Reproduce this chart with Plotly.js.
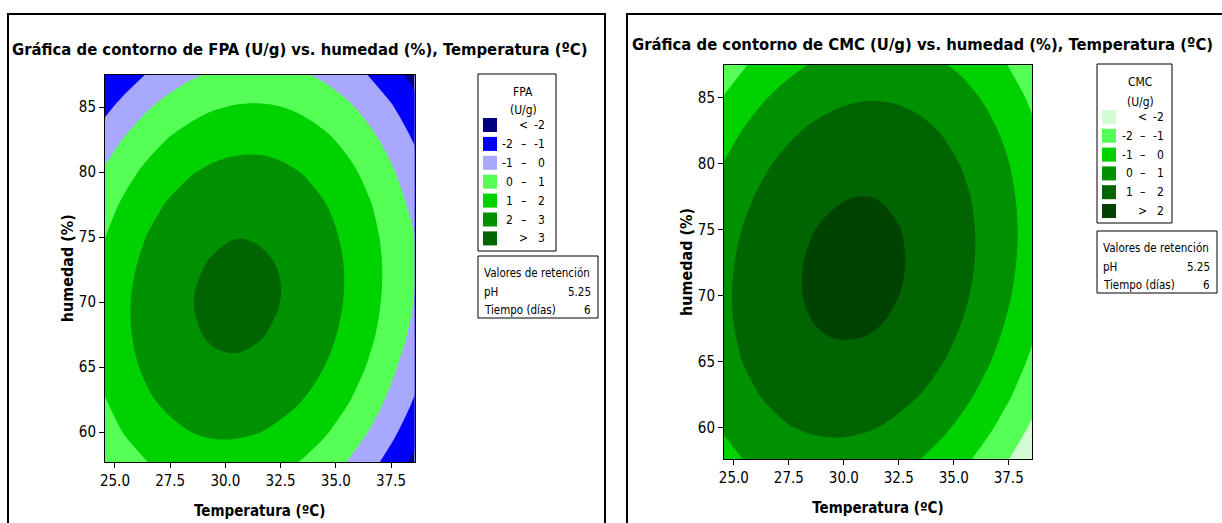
<!DOCTYPE html>
<html><head><meta charset="utf-8">
<script src="https://cdn.plot.ly/plotly-3.0.1.min.js"></script>
<style>html,body{margin:0;padding:0;background:#fff}#chart{width:1222px;height:523px}</style>
</head><body><div id="chart"></div>
<script>
// ---- data ----
const temperatura = [24.5, 25.5, 26.5, 27.5, 28.5, 29.5, 30.5, 31.5, 32.5, 33.5, 34.5, 35.5, 36.5, 37.5, 38.5, 39.5];
const humedad = [57.5, 60, 62.5, 65, 67.5, 70, 72.5, 75, 77.5, 80, 82.5, 85, 87.5];

const fpa = [
  [0.05, 0.56, 0.96, 1.26, 1.45, 1.55, 1.53, 1.42, 1.20, 0.88, 0.46, -0.07, -0.69, -1.43, -2.26, -3.20],
  [0.56, 1.08, 1.49, 1.80, 2.01, 2.12, 2.12, 2.02, 1.81, 1.51, 1.10, 0.58, -0.03, -0.75, -1.57, -2.50],
  [0.94, 1.47, 1.90, 2.22, 2.44, 2.56, 2.58, 2.49, 2.30, 2.002, 1.61, 1.11, 0.50, -0.20, -1.01, -1.93],
  [1.20, 1.74, 2.18, 2.52, 2.75, 2.88, 2.91, 2.83, 2.66, 2.37, 1.99, 1.50, 0.91, 0.22, -0.58, -1.48],
  [1.33, 1.88, 2.34, 2.69, 2.93, 3.08, 3.12, 3.05, 2.89, 2.62, 2.25, 1.78, 1.20, 0.52, -0.20, -1.15],
  [1.33, 1.90, 2.37, 2.73, 2.99, 3.14, 3.20, 3.15, 2.996, 2.74, 2.38, 1.92, 1.36, 0.69, 0.01, -0.96],
  [1.21, 1.79, 2.27, 2.65, 2.92, 3.09, 3.16, 3.12, 2.98, 2.74, 2.39, 1.94, 1.39, 0.74, 0.10, -0.88],
  [0.97, 1.56, 2.05, 2.44, 2.73, 2.91, 2.99, 2.96, 2.84, 2.61, 2.27, 1.84, 1.30, 0.66, 0.06, -0.93],
  [0.60, 1.20, 1.71, 2.11, 2.41, 2.60, 2.69, 2.68, 2.57, 2.35, 2.03, 1.61, 1.08, 0.45, -0.20, -1.11],
  [0.10, 0.72, 1.24, 1.65, 1.96, 2.17, 2.27, 2.28, 2.18, 1.97, 1.66, 1.25, 0.74, 0.13, -0.59, -1.42],
  [-0.52, 0.11, 0.64, 1.07, 1.39, 1.61, 1.73, 1.75, 1.66, 1.47, 1.17, 0.77, 0.27, -0.33, -1.04, -1.84],
  [-1.27, -0.63, -0.08, 0.36, 0.70, 0.93, 1.06, 1.09, 1.01, 0.83, 0.55, 0.17, -0.32, -0.91, -1.60, -2.40],
  [-1.95, -1.49, -0.93, -0.48, -0.13, 0.12, 0.26, 0.30, 0.24, 0.08, -0.19, -0.56, -1.04, -1.61, -2.30, -3.08]
];

const cmc = [
  [-0.34, 0.02, 0.30, 0.50, 0.62, 0.66, 0.61, 0.48, 0.27, -0.02, -0.40, -0.85, -1.39, -2.01, -2.71, -3.50],
  [0.08, 0.46, 0.75, 0.97, 1.10, 1.15, 1.12, 1.01, 0.81, 0.53, 0.17, -0.27, -0.80, -1.40, -2.09, -2.86],
  [0.41, 0.80, 1.11, 1.34, 1.49, 1.55, 1.53, 1.43, 1.25, 0.99, 0.64, 0.22, -0.30, -0.89, -1.56, -2.32],
  [0.64, 1.05, 1.37, 1.62, 1.78, 1.85, 1.85, 1.77, 1.60, 1.35, 1.02, 0.61, 0.11, -0.47, -1.13, -1.87],
  [0.78, 1.20, 1.54, 1.79, 1.97, 2.06, 2.07, 2.002, 1.85, 1.61, 1.30, 0.90, 0.42, -0.15, -0.79, -1.52],
  [0.82, 1.25, 1.61, 1.88, 2.07, 2.17, 2.20, 2.14, 2.003, 1.78, 1.48, 1.10, 0.63, 0.08, -0.55, -1.26],
  [0.76, 1.21, 1.58, 1.86, 2.07, 2.19, 2.23, 2.19, 2.06, 1.86, 1.57, 1.20, 0.75, 0.21, -0.41, -1.10],
  [0.61, 1.07, 1.45, 1.75, 1.97, 2.11, 2.16, 2.13, 2.02, 1.83, 1.56, 1.20, 0.77, 0.25, -0.36, -1.04],
  [0.36, 0.84, 1.23, 1.55, 1.78, 1.93, 1.998, 1.99, 1.89, 1.71, 1.45, 1.11, 0.69, 0.18, -0.41, -1.08],
  [0.01, 0.51, 0.92, 1.25, 1.49, 1.66, 1.74, 1.74, 1.66, 1.50, 1.25, 0.92, 0.52, 0.02, -0.55, -1.20],
  [-0.43, 0.08, 0.50, 0.85, 1.11, 1.29, 1.39, 1.40, 1.33, 1.18, 0.95, 0.64, 0.25, -0.23, -0.79, -1.43],
  [-0.97, -0.44, -0.01, 0.35, 0.63, 0.82, 0.93, 0.96, 0.91, 0.78, 0.56, 0.26, -0.12, -0.58, -1.13, -1.75],
  [-1.60, -1.06, -0.61, -0.24, 0.05, 0.26, 0.39, 0.43, 0.39, 0.27, 0.07, -0.21, -0.58, -1.03, -1.56, -2.17]
];

const fpaLevels = [-2, -1, 0, 1, 2, 3];
const cmcLevels = [-2, -1, 0, 1, 2];
const retencion = [['pH', '5.25'], ['Tiempo (días)', '6']];
const xTicks = [25.0, 27.5, 30.0, 32.5, 35.0, 37.5];
const yTicks = [60, 65, 70, 75, 80, 85];

// ---- styles ----
const fpaColors = ['#000080', '#0000ff', '#a8a8ff', '#55ff55', '#00d200', '#009100', '#006400'];
const cmcColors = ['#d4fcd4', '#55ff55', '#00d200', '#009100', '#006400', '#004200'];
const FONT = '"Liberation Sans Narrow", "Arial Narrow", "DejaVu Sans Condensed", "Liberation Sans", sans-serif';
const W = 1222, H = 523;
const px = v => v / W;
const py = v => 1 - v / H;

function scale(colors) {
  return colors.map((c, i) => [i / (colors.length - 1), c]);
}

function bandLabels(levels) {
  const out = [['', '<', String(levels[0])]];
  for (let i = 0; i < levels.length - 1; i++) out.push([String(levels[i]), '\u2013', String(levels[i + 1])]);
  out.push(['', '>', String(levels[levels.length - 1])]);
  return out;
}

function contourTrace(z, levels, colors, xa, ya) {
  return {
    type: 'contour', x: temperatura, y: humedad, z: z, xaxis: xa, yaxis: ya,
    autocontour: false,
    contours: {start: levels[0], end: levels[levels.length - 1], size: 1, coloring: 'fill', showlines: false},
    line: {width: 0, smoothing: 1},
    colorscale: scale(colors), showscale: false, hoverinfo: 'skip'
  };
}

const shapes = [];
const annotations = [];

function text(t, x, y, anchor, size, bold) {
  annotations.push({
    xref: 'paper', yref: 'paper', x: px(x), y: py(y), xanchor: anchor, yanchor: 'middle',
    text: bold ? '<b>' + t + '</b>' : t, showarrow: false,
    font: {family: FONT, size: size, color: '#000'}
  });
}
function rect(x0, y0, x1, y1, fill, lw) {
  shapes.push({type: 'rect', xref: 'paper', yref: 'paper', x0: px(x0), x1: px(x1), y0: py(y1), y1: py(y0),
    fillcolor: fill || 'rgba(0,0,0,0)', line: {color: '#000', width: lw}});
}
function line(x0, y0, x1, y1, lw) {
  shapes.push({type: 'line', xref: 'paper', yref: 'paper', x0: px(x0), x1: px(x1), y0: py(y0), y1: py(y1),
    line: {color: '#000', width: lw}});
}

function legend(cfg) {
  const labels = bandLabels(cfg.levels);
  rect(cfg.bx0, cfg.by0, cfg.bx1, cfg.by1, null, 1);
  text(cfg.name, cfg.tx, cfg.ty1, 'center', 12);
  text('(U/g)', cfg.tx, cfg.ty2, 'center', 12);
  labels.forEach((lab, i) => {
    const cy = cfg.sy0 + i * cfg.step;
    rect(cfg.sx0, cy - 7, cfg.sx0 + 14, cy + 7, cfg.colors[i], 0);
    if (lab[0]) text(lab[0], cfg.lx, cy, 'right', 12);
    text(lab[1], cfg.mx, cy, 'center', 12);
    text(lab[2], cfg.rx, cy, 'right', 12);
  });
  rect(cfg.bx0, cfg.cy0, cfg.cx1, cfg.cy1, null, 1);
  text('Valores de retención', cfg.bx0 + 4, cfg.cy0 + 17, 'left', 11.5);
  retencion.forEach((r, i) => {
    const y = cfg.cy0 + 36 + i * 18;
    text(r[0], cfg.bx0 + 4, y, 'left', 11.5);
    text(r[1], cfg.cx1 - 5, y, 'right', 11.5);
  });
}

// panel borders
line(8, 14, 605, 14, 2); line(8, 13, 8, 523, 2); line(605, 13, 605, 523, 2);
line(627, 14, 1222, 14, 2); line(627, 13, 627, 523, 2);

// titles
text('Gráfica de contorno de FPA (U/g) vs. humedad (%), Temperatura (ºC)', 300, 49, 'center', 16.5, true);
text('Gráfica de contorno de CMC (U/g) vs. humedad (%), Temperatura (ºC)', 922, 44, 'center', 16.5, true);

legend({levels: fpaLevels, colors: fpaColors, name: 'FPA',
  bx0: 478, by0: 74, bx1: 556, by1: 251, tx: 523, ty1: 92, ty2: 110,
  sx0: 483, sy0: 125, step: 18.9, lx: 515, mx: 523, rx: 547,
  cy0: 256, cx1: 598, cy1: 318});
legend({levels: cmcLevels, colors: cmcColors, name: 'CMC',
  bx0: 1097, by0: 64, bx1: 1172, by1: 223, tx: 1140, ty1: 82, ty2: 102,
  sx0: 1102, sy0: 117, step: 18.8, lx: 1135, mx: 1142, rx: 1166,
  cy0: 231, cx1: 1217, cy1: 293});

function xAxis(domain, anchor) {
  return {
    domain: domain, anchor: anchor, range: [24.55, 38.56], tickvals: xTicks, ticktext: xTicks.map(v => v.toFixed(1)),
    ticks: 'outside', ticklen: 5, tickcolor: '#000', showline: true, linecolor: '#000', linewidth: 1, mirror: true,
    showgrid: false, zeroline: false, tickfont: {family: FONT, size: 15, color: '#000'},
    title: {text: '<b>Temperatura (ºC)</b>', font: {family: FONT, size: 15, color: '#000'}, standoff: 16}
  };
}
function yAxis(domain, anchor, range) {
  return {
    domain: domain, anchor: anchor, range: range, tickvals: yTicks,
    ticks: 'outside', ticklen: 5, tickcolor: '#000', showline: true, linecolor: '#000', linewidth: 1, mirror: true,
    showgrid: false, zeroline: false, tickfont: {family: FONT, size: 15, color: '#000'},
    title: {text: '<b>humedad (%)</b>', font: {family: FONT, size: 16, color: '#000'}, standoff: 1}
  };
}

const layout = {
  width: W, height: H, margin: {l: 0, r: 0, t: 0, b: 0},
  paper_bgcolor: '#fff', plot_bgcolor: '#fff', showlegend: false,
  xaxis: xAxis([px(105), px(414.5)], 'y'),
  yaxis: yAxis([1 - 462 / H, 1 - 74.5 / H], 'x', [57.7, 87.5]),
  xaxis2: xAxis([px(724), px(1032)], 'y2'),
  yaxis2: yAxis([1 - 459 / H, 1 - 65 / H], 'x2', [57.6, 87.5]),
  shapes: shapes, annotations: annotations
};

Plotly.newPlot('chart', [
  contourTrace(fpa, fpaLevels, fpaColors, 'x', 'y'),
  contourTrace(cmc, cmcLevels, cmcColors, 'x2', 'y2')
], layout, {staticPlot: true, displayModeBar: false});
</script>
</body></html>
